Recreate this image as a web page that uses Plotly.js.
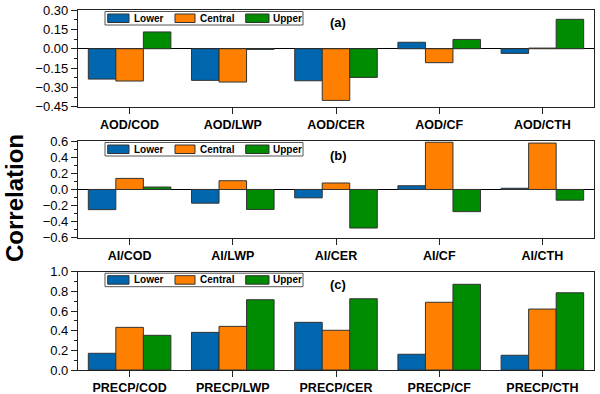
<!DOCTYPE html>
<html>
<head>
<meta charset="utf-8">
<script src="https://cdn.plot.ly/plotly-3.0.1.min.js"></script>
<style>html,body{margin:0;padding:0;background:#fff;}#chart{width:600px;height:394px;}</style>
</head>
<body>
<div id="chart"></div>
<script>
// ---- data ----
var seriesNames = ['Lower', 'Central', 'Upper'];

var catsA = ['AOD/COD', 'AOD/LWP', 'AOD/CER', 'AOD/CF', 'AOD/CTH'];
var lowerA = [-0.235, -0.245, -0.248, 0.05, -0.036];
var centralA = [-0.25, -0.258, -0.40, -0.108, 0.005];
var upperA = [0.13, -0.005, -0.222, 0.072, 0.228];

var catsB = ['AI/COD', 'AI/LWP', 'AI/CER', 'AI/CF', 'AI/CTH'];
var lowerB = [-0.25, -0.17, -0.104, 0.046, 0.015];
var centralB = [0.137, 0.108, 0.08, 0.585, 0.575];
var upperB = [0.03, -0.248, -0.478, -0.275, -0.133];

var catsC = ['PRECP/COD', 'PRECP/LWP', 'PRECP/CER', 'PRECP/CF', 'PRECP/CTH'];
var lowerC = [0.17, 0.383, 0.485, 0.16, 0.15];
var centralC = [0.434, 0.444, 0.404, 0.689, 0.62];
var upperC = [0.353, 0.715, 0.725, 0.872, 0.786];

var panelLabels = ['(a)', '(b)', '(c)'];
var yTitle = 'Correlation';

// ---- styles ----
var colors = ['#0066ad', '#ff8000', '#008c00'];
var FONT = 'Arial, "Liberation Sans", sans-serif';
var lineCol = '#222';
var ML = 78, MR = 6, MT = 10, MB = 24, W = 600, H = 394;
var PW = W - ML - MR, PH = H - MT - MB;
function px(x) { return (x - ML) / PW; }          // pixel x -> paper
function py(y) { return (H - MB - y) / PH; }      // pixel y -> paper

function mk(cats, vals, i, xa, ya) {
  return {
    type: 'bar', x: cats, y: vals, name: seriesNames[i],
    xaxis: xa, yaxis: ya, showlegend: false,
    marker: {color: colors[i], line: {color: '#333', width: 1}},
    hoverinfo: 'x+y+name'
  };
}

var data = [];
[lowerA, centralA, upperA].forEach(function (v, i) { data.push(mk(catsA, v, i, 'x', 'y')); });
[lowerB, centralB, upperB].forEach(function (v, i) { data.push(mk(catsB, v, i, 'x2', 'y2')); });
[lowerC, centralC, upperC].forEach(function (v, i) { data.push(mk(catsC, v, i, 'x3', 'y3')); });

function xax(anchor) {
  return {
    anchor: anchor, domain: [0, 1], type: 'category',
    showline: true, mirror: true, linecolor: lineCol, linewidth: 1.2,
    ticks: 'outside', ticklen: 6, tickcolor: lineCol, tickwidth: 1.2,
    tickfont: {family: FONT, size: 12.5, weight: 'bold', color: '#000'},
    showgrid: false, zeroline: false, fixedrange: true
  };
}
function yax(anchor, domain, range, dtick, fmt) {
  return {
    anchor: anchor, domain: domain, range: range, dtick: dtick, tick0: 0,
    tickformat: fmt,
    showline: true, mirror: true, linecolor: lineCol, linewidth: 1.2,
    ticks: 'outside', ticklen: 6, tickcolor: lineCol, tickwidth: 1.2,
    minor: {ticks: 'outside', ticklen: 3, dtick: dtick / 2, tickcolor: lineCol, tickwidth: 1, showgrid: false},
    tickfont: {family: FONT, size: 13, color: '#000'},
    showgrid: false, zeroline: true, zerolinecolor: '#000', zerolinewidth: 1.2,
    fixedrange: true
  };
}

// panel tops in pixels (for legend boxes and labels)
var panelTops = [10, 141, 271.7];
var labelY = [23, 155, 284];
var legendBoxX = [105, 303];
var swatchX = [[107.7, 129], [175, 195], [245.7, 269]];
var textX = [131.7, 198, 271];

var shapes = [], annotations = [];
panelTops.forEach(function (top, p) {
  var y0 = top + 1.5, y1 = top + 15;
  shapes.push({type: 'rect', xref: 'paper', yref: 'paper',
    x0: px(legendBoxX[0]), x1: px(legendBoxX[1]), y0: py(y1), y1: py(y0),
    line: {color: '#555', width: 1}, fillcolor: '#fff', layer: 'above'});
  seriesNames.forEach(function (nm, i) {
    shapes.push({type: 'rect', xref: 'paper', yref: 'paper',
      x0: px(swatchX[i][0]), x1: px(swatchX[i][1]), y0: py(y1 - 2.5), y1: py(y0 + 2.5),
      line: {color: '#333', width: 1}, fillcolor: colors[i], layer: 'above'});
    annotations.push({text: nm, xref: 'paper', yref: 'paper', x: px(textX[i]), y: py((y0 + y1) / 2),
      xanchor: 'left', yanchor: 'middle', showarrow: false,
      font: {family: FONT, size: 10, weight: 'bold', color: '#000'}});
  });
  annotations.push({text: panelLabels[p], xref: 'paper', yref: 'paper', x: px(338), y: py(labelY[p]),
    xanchor: 'center', yanchor: 'middle', showarrow: false,
    font: {family: FONT, size: 13, weight: 'bold', color: '#000'}});
});
annotations.push({text: yTitle, xref: 'paper', yref: 'paper', x: px(15), y: py(198), textangle: -90,
  xanchor: 'center', yanchor: 'middle',
  showarrow: false, font: {family: FONT, size: 24, weight: 'bold', color: '#000'}});

var layout = {
  width: W, height: H,
  margin: {l: ML, r: MR, t: MT, b: MB},
  paper_bgcolor: '#fff', plot_bgcolor: '#fff',
  barmode: 'group', bargap: 0.2, bargroupgap: 0,
  showlegend: false,
  xaxis: xax('y'), yaxis: yax('x', [0.731, 1], [-0.45, 0.30], 0.15, '.2f'),
  xaxis2: xax('y2'), yaxis2: yax('x2', [0.367, 0.636], [-0.6, 0.6], 0.2, '.1f'),
  xaxis3: xax('y3'), yaxis3: yax('x3', [0, 0.273], [0, 1.0], 0.2, '.1f'),
  shapes: shapes,
  annotations: annotations
};

Plotly.newPlot('chart', data, layout, {displayModeBar: false});
</script>
</body>
</html>
